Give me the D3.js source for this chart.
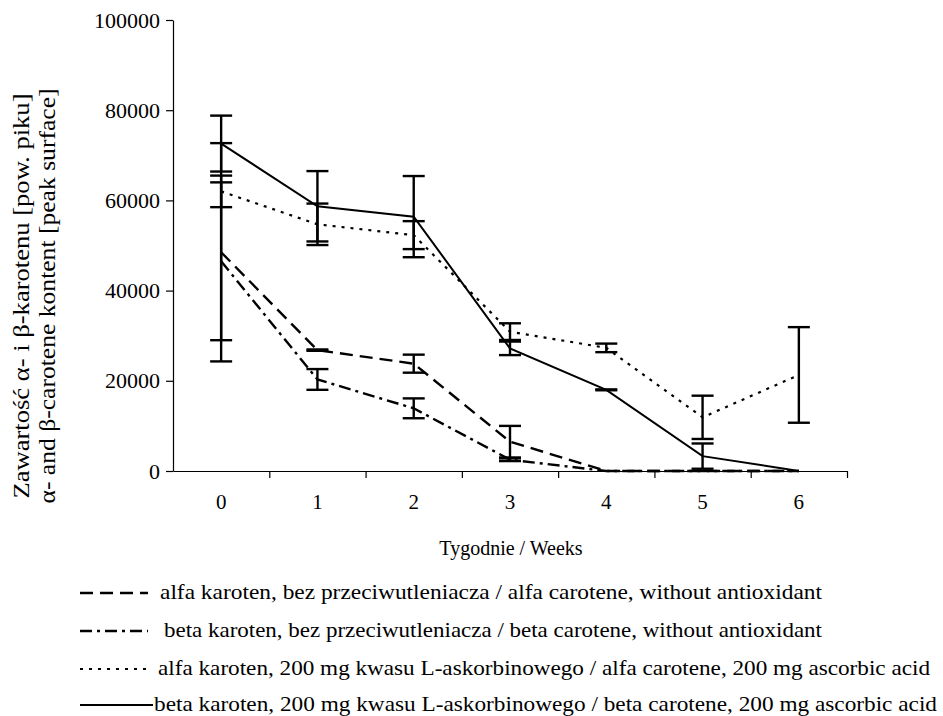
<!DOCTYPE html>
<html>
<head>
<meta charset="utf-8">
<script src="https://cdn.jsdelivr.net/npm/d3@7"></script>
<style>
  html, body { margin: 0; padding: 0; background: #fff; }
  svg { display: block; }
</style>
</head>
<body>
<svg id="chart" width="943" height="716"></svg>
<script>
// Weeks of storage
const weeks = [0, 1, 2, 3, 4, 5, 6];
const yTicks = [0, 20000, 40000, 60000, 80000, 100000];

// Peak surface, alfa carotene, no antioxidant
const alfaNoAO = [48500, 26800, 23800, 6500, 0, 0, 0];
const alfaNoAOErr = [24200, 150, 2000, 3500, 0, 0, 0];
// Peak surface, beta carotene, no antioxidant
const betaNoAO = [46500, 20300, 13900, 2500, 0, 0, 0];
const betaNoAOErr = [17500, 2300, 2200, 300, 0, 0, 0];
// Peak surface, alfa carotene, 200 mg ascorbic acid
const alfaAA = [62000, 54700, 52300, 30900, 27300, 11900, 21300];
const alfaAAErr = [3500, 4600, 3100, 1850, 950, 4800, 10600];
// Peak surface, beta carotene, 200 mg ascorbic acid
const betaAA = [72600, 58700, 56400, 27200, 18000, 3300, 0];
const betaAAErr = [6200, 7800, 9000, 1500, 100, 2800, 0];

const legendLabels = [
  "alfa karoten, bez przeciwutleniacza / alfa carotene, without antioxidant",
  "beta karoten, bez przeciwutleniacza / beta carotene, without antioxidant",
  "alfa karoten, 200 mg kwasu L-askorbinowego / alfa carotene, 200 mg ascorbic acid",
  "beta karoten, 200 mg kwasu L-askorbinowego / beta carotene, 200 mg ascorbic acid"
];

const series = [
  { values: alfaNoAO, err: alfaNoAOErr, dash: "13,7", width: 2.4 },
  { values: betaNoAO, err: betaNoAOErr, dash: "12,5,3,5", width: 2.4 },
  { values: alfaAA, err: alfaAAErr, dash: "3,6", width: 2.2 },
  { values: betaAA, err: betaAAErr, dash: null, width: 2 }
];

const FONT = '"Liberation Serif", "Times New Roman", serif';
const svg = d3.select("#chart").style("font-family", FONT);
const plotLeft = 173, plotRight = 847, plotTop = 20, plotBottom = 471;

const x = d3.scaleBand().domain(weeks).range([plotLeft, plotRight]).paddingInner(0).paddingOuter(0);
const xEdge = d3.scaleLinear().domain([0, weeks.length]).range([plotLeft, plotRight]);
const y = d3.scaleLinear().domain([0, 100000]).range([plotBottom, plotTop]);
const cx = w => x(w) + x.bandwidth() / 2;

// y axis
const yAxis = svg.append("g")
  .attr("transform", `translate(${plotLeft},0)`)
  .call(d3.axisLeft(y).tickValues(yTicks).tickFormat(d3.format("d")).tickSize(7).tickSizeOuter(0).tickPadding(6))
  .attr("font-family", null).attr("font-size", null);
yAxis.selectAll("text").style("font-size", "22px").style("font-family", FONT).attr("fill", "#000");
yAxis.selectAll("line, path").attr("stroke", "#000").attr("stroke-width", 1.2);

// x axis: tick marks on category boundaries, labels on centres
const xTicks = svg.append("g")
  .attr("transform", `translate(0,${plotBottom})`)
  .call(d3.axisBottom(xEdge).tickValues(d3.range(1, weeks.length + 1)).tickFormat("").tickSize(7).tickSizeOuter(0));
xTicks.selectAll("line, path").attr("stroke", "#000").attr("stroke-width", 1.2);

const xLabels = svg.append("g")
  .attr("transform", `translate(0,${plotBottom})`)
  .call(d3.axisBottom(x).tickSize(0).tickPadding(23))
  .attr("font-family", null).attr("font-size", null);
xLabels.select(".domain").remove();
xLabels.selectAll("text").style("font-size", "21px").style("font-family", FONT).attr("fill", "#000");

// Axis titles
svg.append("text")
  .attr("x", 511).attr("y", 555)
  .attr("text-anchor", "middle")
  .style("font-family", FONT)
  .style("font-size", "20px")
  .text("Tygodnie / Weeks");

const yTitle = svg.append("text")
  .attr("transform", "translate(0,296) rotate(-90)")
  .attr("text-anchor", "middle")
  .style("font-family", FONT)
  .style("font-size", "24px");
yTitle.append("tspan").attr("x", 0).attr("y", 29)
  .attr("textLength", 405).attr("lengthAdjust", "spacingAndGlyphs")
  .text("Zawartość α- i β-karotenu [pow. piku]");
yTitle.append("tspan").attr("x", 0).attr("y", 55)
  .attr("textLength", 415).attr("lengthAdjust", "spacingAndGlyphs")
  .text("α- and β-carotene kontent [peak surface]");

// Data lines
const line = d3.line().x((d, i) => cx(weeks[i])).y(d => y(d));
series.forEach(s => {
  svg.append("path")
    .datum(s.values)
    .attr("d", line)
    .attr("fill", "none")
    .attr("stroke", "#000")
    .attr("stroke-width", s.width)
    .attr("stroke-dasharray", s.dash);
});

// Error bars
const capHalf = 11;
series.forEach(s => {
  const g = svg.append("g").attr("stroke", "#000").attr("stroke-width", 2.4);
  s.values.forEach((v, i) => {
    const e = s.err[i];
    if (!e) return;
    const px = cx(weeks[i]);
    const y1 = y(v + e), y0 = y(Math.max(0, v - e));
    g.append("line").attr("x1", px).attr("x2", px).attr("y1", y1).attr("y2", y0);
    g.append("line").attr("x1", px - capHalf).attr("x2", px + capHalf).attr("y1", y1).attr("y2", y1);
    g.append("line").attr("x1", px - capHalf).attr("x2", px + capHalf).attr("y1", y0).attr("y2", y0);
  });
});

// Legend
const legendY = [593, 631, 669, 705];
const legendTextX = [160, 164, 158, 154];
const legendTextEnd = [822, 822, 930, 937];
series.forEach((s, i) => {
  svg.append("line")
    .attr("x1", 80).attr("x2", i === 3 ? 153 : 148)
    .attr("y1", legendY[i]).attr("y2", legendY[i])
    .attr("stroke", "#000").attr("stroke-width", s.width)
    .attr("stroke-dasharray", s.dash);
  svg.append("text")
    .attr("x", legendTextX[i]).attr("y", legendY[i] + 6)
    .attr("textLength", legendTextEnd[i] - legendTextX[i])
    .attr("lengthAdjust", "spacingAndGlyphs")
    .style("font-family", FONT)
    .style("font-size", "21px")
    .text(legendLabels[i]);
});
</script>
</body>
</html>
